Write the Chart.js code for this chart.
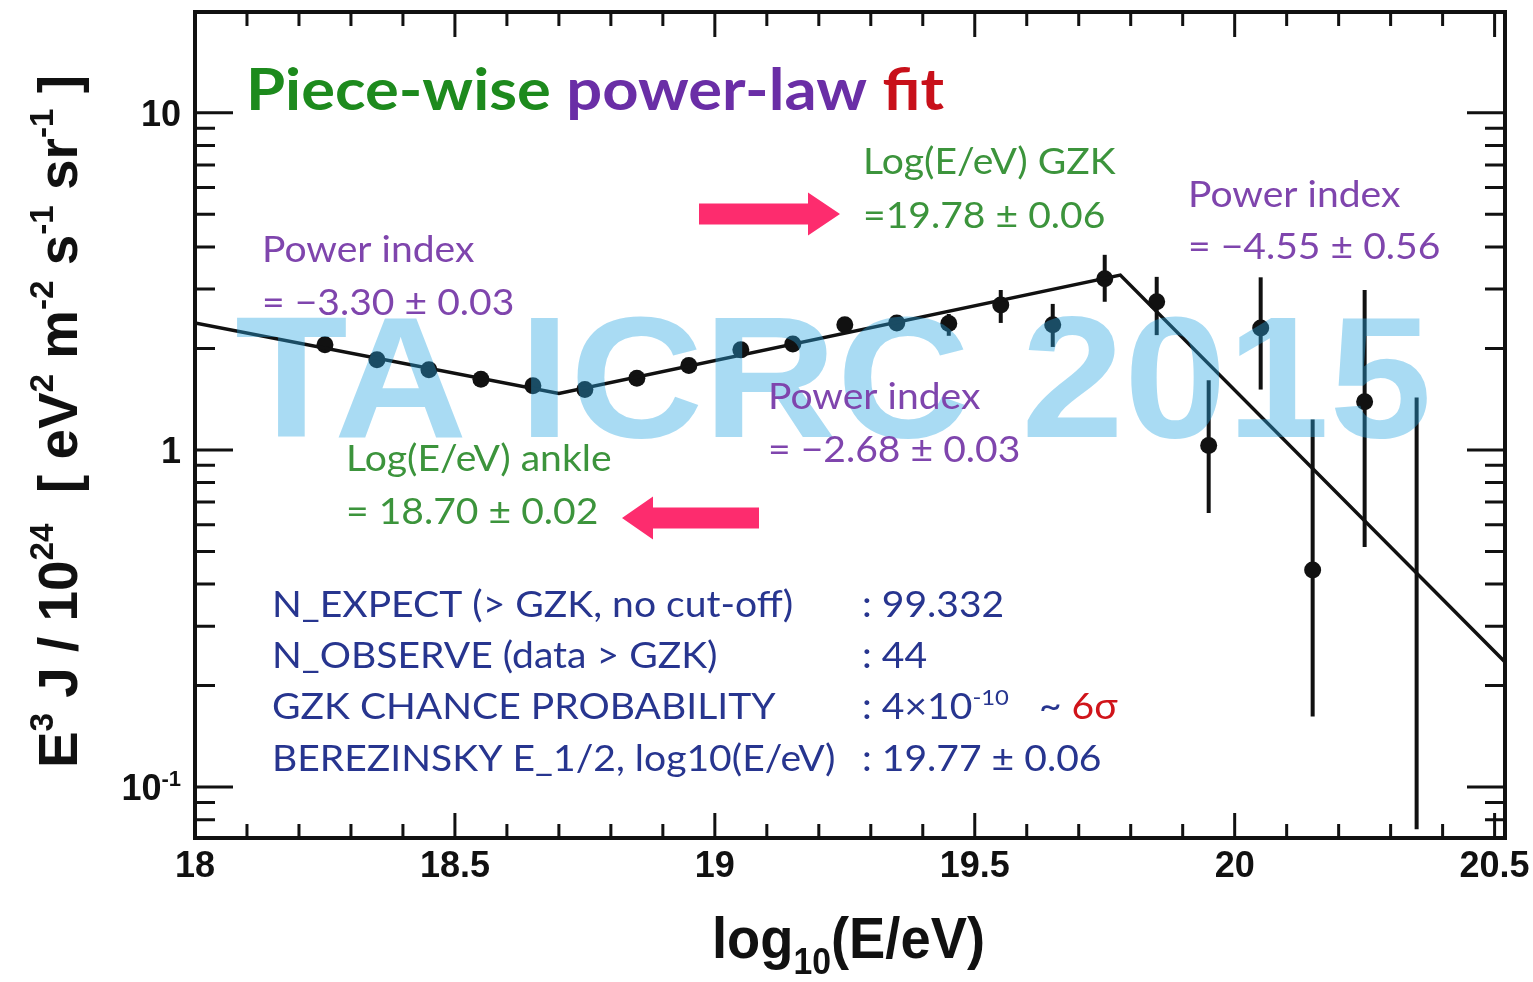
<!DOCTYPE html>
<html>
<head>
<meta charset="utf-8">
<title>TA spectrum - piece-wise power-law fit</title>
<script src="https://cdn.jsdelivr.net/npm/chart.js@4.4.1/dist/chart.umd.min.js"></script>
<style>
  html, body { margin: 0; padding: 0; background: #fff; }
  #wrap { width: 1533px; height: 982px; position: relative; }
</style>
</head>
<body>
<div id="wrap"><canvas id="spectrum"></canvas></div>
<script>
// measured flux points, E^3 J / 1e24 [eV^2 m^-2 s^-1 sr^-1]
const logE = [18.25, 18.35, 18.45, 18.55, 18.65, 18.75, 18.85, 18.95, 19.05, 19.15, 19.25,
              19.35, 19.45, 19.55, 19.65, 19.75, 19.85, 19.95, 20.05, 20.15, 20.25, 20.35];
const flux = [2.05, 1.85, 1.73, 1.62, 1.55, 1.51, 1.63, 1.78, 1.98, 2.06, 2.35,
              2.38, 2.37, 2.69, 2.35, 3.22, 2.75, 1.03, 2.30, 0.44, 1.39, null];
const fluxHigh = [2.10, 1.89, 1.77, 1.66, 1.59, 1.55, 1.67, 1.83, 2.04, 2.13, 2.44,
                  2.48, 2.53, 2.98, 2.71, 3.79, 3.26, 1.61, 3.25, 1.23, 2.98, 1.43];
const fluxLow = [2.00, 1.81, 1.69, 1.58, 1.51, 1.47, 1.59, 1.73, 1.92, 1.99, 2.27,
                 2.29, 2.18, 2.38, 2.02, 2.75, 2.19, 0.65, 1.51, 0.162, 0.515, 0.075];

// broken power-law fit: ankle at 18.70, GZK break at 19.78
const fitLogE = [18.0, 18.70, 19.78, 20.52];
const fitFlux = [2.38, 1.47, 3.30, 0.235];

// axis ticks
const xMajorTicks = [18, 18.5, 19, 19.5, 20, 20.5];
const xTickLabels = ['18', '18.5', '19', '19.5', '20', '20.5'];
const yMajorTicks = [0.1, 1, 10];
const yTickLabels = [['10', '-1'], ['1', ''], ['10', '']];

const AXIS_FONT = '"Liberation Sans", Arial, sans-serif';
const TEXT_FONT = 'Lato, "Open Sans", sans-serif';
const TEXT_STRETCH = 1.085;
const INK = '#111';
const GREEN = '#3c943c';
const PURPLE = '#7f45ad';
const BLUE = '#27358f';

// helpers for text runs with sub/superscripts
function runWidth(ctx, runs) {
  let w = 0;
  for (const r of runs) { ctx.font = r.font; w += ctx.measureText(r.text).width; }
  return w;
}
function drawRuns(ctx, runs, x, y, sx) {
  ctx.save();
  ctx.translate(x, y);
  if (sx) ctx.scale(sx, 1);
  let cx = 0;
  for (const r of runs) {
    ctx.font = r.font;
    ctx.fillStyle = r.color || INK;
    ctx.fillText(r.text, cx, r.dy || 0);
    cx += ctx.measureText(r.text).width;
  }
  ctx.restore();
}

function arrow(ctx, tailX, tipX, y, shaft, head, headLen) {
  const dir = Math.sign(tipX - tailX);
  const baseX = tipX - dir * headLen;
  ctx.beginPath();
  ctx.moveTo(tailX, y - shaft / 2);
  ctx.lineTo(baseX, y - shaft / 2);
  ctx.lineTo(baseX, y - head / 2);
  ctx.lineTo(tipX, y);
  ctx.lineTo(baseX, y + head / 2);
  ctx.lineTo(baseX, y + shaft / 2);
  ctx.lineTo(tailX, y + shaft / 2);
  ctx.closePath();
  ctx.fill();
}

const decor = {
  id: 'decor',
  beforeDatasetsDraw(chart) {
    const { ctx, scales: { x, y } } = chart;
    ctx.save();
    ctx.strokeStyle = INK;
    ctx.lineWidth = 4;
    for (let i = 0; i < logE.length; i++) {
      const px = x.getPixelForValue(logE[i]);
      ctx.beginPath();
      ctx.moveTo(px, y.getPixelForValue(fluxHigh[i]));
      ctx.lineTo(px, y.getPixelForValue(fluxLow[i]));
      ctx.stroke();
    }
    ctx.restore();
  },
  afterDatasetsDraw(chart) {
    // conference watermark over the data
    const { ctx } = chart;
    ctx.save();
    ctx.font = 'bold 172px ' + AXIS_FONT;
    const text = 'TA ICRC 2015';
    const w = ctx.measureText(text).width;
    ctx.translate(235, 437);
    ctx.scale(1197 / w, 1);
    ctx.fillStyle = 'rgba(40, 165, 225, 0.4)';
    ctx.textBaseline = 'alphabetic';
    ctx.fillText(text, 0, 0);
    ctx.restore();
  },
  afterDraw(chart) {
    const { ctx, chartArea: a, scales: { x, y } } = chart;
    ctx.save();

    // frame
    ctx.strokeStyle = INK;
    ctx.lineWidth = 4;
    ctx.strokeRect(a.left, a.top, a.right - a.left, a.bottom - a.top);

    // inward ticks on all four sides
    ctx.lineWidth = 3;
    ctx.beginPath();
    for (let k = 1; k <= 25; k++) {
      const v = 18 + k / 10;
      const px = x.getPixelForValue(v);
      const len = k % 5 === 0 ? 25 : 14;
      ctx.moveTo(px, a.bottom); ctx.lineTo(px, a.bottom - len);
      ctx.moveTo(px, a.top); ctx.lineTo(px, a.top + len);
    }
    for (const dec of [0.01, 0.1, 1, 10]) {
      for (let m = 1; m <= 9; m++) {
        const v = m * dec;
        if (v < y.min || v > y.max) continue;
        const py = y.getPixelForValue(v);
        const len = m === 1 ? 38 : 20;
        ctx.moveTo(a.left, py); ctx.lineTo(a.left + len, py);
        ctx.moveTo(a.right, py); ctx.lineTo(a.right - len, py);
      }
    }
    ctx.stroke();

    // tick labels
    ctx.fillStyle = INK;
    ctx.textBaseline = 'alphabetic';
    ctx.font = 'bold 36px ' + AXIS_FONT;
    xMajorTicks.forEach((v, i) => {
      const px = x.getPixelForValue(v);
      const w = ctx.measureText(xTickLabels[i]).width;
      ctx.fillText(xTickLabels[i], px - w / 2, 877);
    });
    yMajorTicks.forEach((v, i) => {
      const py = y.getPixelForValue(v);
      const runs = [
        { text: yTickLabels[i][0], font: 'bold 36px ' + AXIS_FONT },
        { text: yTickLabels[i][1], font: 'bold 22px ' + AXIS_FONT, dy: -14 }
      ];
      const w = runWidth(ctx, runs);
      drawRuns(ctx, runs, 181 - w, py + 13);
    });

    // x axis title
    const xt = [
      { text: 'log', font: 'bold 58px ' + AXIS_FONT },
      { text: '10', font: 'bold 36px ' + AXIS_FONT, dy: 16 },
      { text: '(E/eV)', font: 'bold 58px ' + AXIS_FONT }
    ];
    drawRuns(ctx, xt, 712, 958, 273 / runWidth(ctx, xt));

    // y axis title
    const big = 'bold 56px ' + AXIS_FONT, sup = 'bold 34px ' + AXIS_FONT;
    const yt = [
      { text: 'E', font: big }, { text: '3', font: sup, dy: -24 },
      { text: ' J / 10', font: big }, { text: '24', font: sup, dy: -24 },
      { text: '  [ eV', font: big }, { text: '2', font: sup, dy: -24 },
      { text: ' m', font: big }, { text: '-2', font: sup, dy: -24 },
      { text: ' s', font: big }, { text: '-1', font: sup, dy: -24 },
      { text: ' sr', font: big }, { text: '-1', font: sup, dy: -24 },
      { text: ' ]', font: big }
    ];
    ctx.save();
    ctx.translate(77, 768);
    ctx.rotate(-Math.PI / 2);
    drawRuns(ctx, yt, 0, 0, 693 / runWidth(ctx, yt));
    ctx.restore();

    // headline
    const hf = 'bold 58px ' + TEXT_FONT;
    const head = [
      { text: 'Piece-wise ', font: hf, color: '#1d8a1d' },
      { text: 'power-law ', font: hf, color: '#6a2ea6' },
      { text: 'fit', font: hf, color: '#c8101a' }
    ];
    drawRuns(ctx, head, 246, 110, 698 / runWidth(ctx, head));

    // fit parameter annotations
    const tf = '36px ' + TEXT_FONT;
    const notes = [
      { lines: ['Power index', '= \u22123.30 \u00b1 0.03'], x: 262, y: [262, 315], color: PURPLE },
      { lines: ['Log(E/eV) GZK', '=19.78 \u00b1 0.06'], x: 863, y: [174, 228], color: GREEN },
      { lines: ['Power index', '= \u22124.55 \u00b1 0.56'], x: 1188, y: [207, 259], color: PURPLE },
      { lines: ['Power index', '= \u22122.68 \u00b1 0.03'], x: 768, y: [409, 462], color: PURPLE },
      { lines: ['Log(E/eV) ankle', '= 18.70 \u00b1 0.02'], x: 346, y: [471, 524], color: GREEN }
    ];
    for (const n of notes) {
      n.lines.forEach((t, i) => drawRuns(ctx, [{ text: t, font: tf, color: n.color }], n.x, n.y[i], TEXT_STRETCH));
    }

    // GZK statistics block
    const rows = [
      ['N_EXPECT (> GZK, no cut-off)', [{ text: ': 99.332' }]],
      ['N_OBSERVE (data > GZK)', [{ text: ': 44' }]],
      ['GZK CHANCE PROBABILITY', [
        { text: ': 4\u00d710' },
        { text: '-10', font: '22px ' + TEXT_FONT, dy: -14 },
        { text: '   ~ ' },
        { text: '6\u03c3', color: '#d0141a' }
      ]],
      ['BEREZINSKY E_1/2, log10(E/eV)', [{ text: ': 19.77 \u00b1 0.06' }]]
    ];
    const rowBase = [617, 668, 719, 771];
    rows.forEach((r, i) => {
      drawRuns(ctx, [{ text: r[0], font: tf, color: BLUE }], 272, rowBase[i], TEXT_STRETCH);
      drawRuns(ctx, r[1].map(s => ({ text: s.text, font: s.font || tf, color: s.color || BLUE, dy: s.dy })),
               862, rowBase[i], TEXT_STRETCH);
    });

    // pointer arrows
    ctx.fillStyle = '#fd2c6e';
    arrow(ctx, 699, 840, 214, 21, 43, 32);
    arrow(ctx, 759, 622, 518, 21, 43, 31);

    ctx.restore();
  }
};

const points = [];
logE.forEach((e, i) => { if (flux[i] !== null) points.push({ x: e, y: flux[i] }); });

new Chart(document.getElementById('spectrum'), {
  type: 'scatter',
  data: {
    datasets: [
      {
        label: 'Fit',
        data: fitLogE.map((e, i) => ({ x: e, y: fitFlux[i] })),
        showLine: true,
        borderColor: INK,
        borderWidth: 3.5,
        pointRadius: 0,
        tension: 0
      },
      {
        label: 'TA data',
        data: points,
        pointRadius: 8.5,
        pointHoverRadius: 8.5,
        backgroundColor: INK,
        borderWidth: 0
      }
    ]
  },
  options: {
    responsive: true,
    maintainAspectRatio: false,
    animation: false,
    layout: { padding: { left: 195, right: 28, top: 12, bottom: 144 } },
    plugins: { legend: { display: false }, tooltip: { enabled: false } },
    scales: {
      x: { type: 'linear', display: false, min: 18, max: 20.52 },
      y: { type: 'logarithmic', display: false, min: 0.0706, max: 19.9 }
    }
  },
  plugins: [decor]
});
</script>
</body>
</html>
